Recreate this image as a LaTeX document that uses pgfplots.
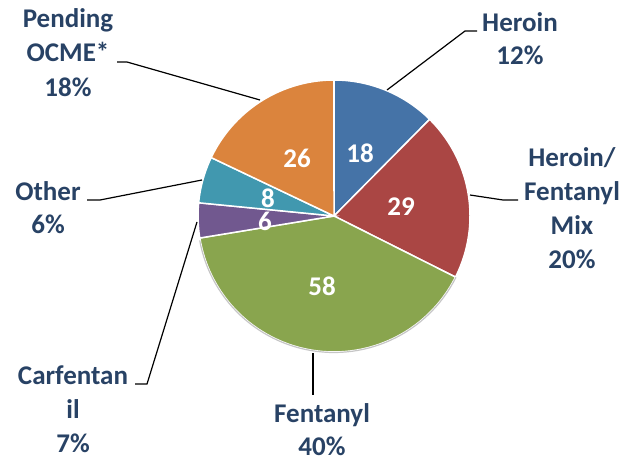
\documentclass[border=0pt]{standalone}
\usepackage{pgfplots}
\pgfplotsset{compat=1.18}
\usepackage{fontspec}
\setmainfont{Carlito}
\definecolor{txt}{RGB}{40,66,101}
\definecolor{cHer}{RGB}{69,115,167}
\definecolor{cMix}{RGB}{170,70,68}
\definecolor{cFen}{RGB}{137,165,78}
\definecolor{cCar}{RGB}{113,88,143}
\definecolor{cOth}{RGB}{65,152,175}
\definecolor{cPen}{RGB}{219,132,61}
\tikzset{
  lbl/.style={anchor=base, text=txt, font=\bfseries\fontsize{27}{33}\selectfont, inner sep=0pt},
  num/.style={anchor=base, text=white, font=\bfseries\fontsize{27}{33}\selectfont, inner sep=0pt}}
% values: Heroin 18, Mix 29, Fentanyl 58, Carfentanil 6, Other 8, Pending 26 (total 145)
\pgfmathsetmacro\aA{90}
\pgfmathsetmacro\aB{\aA-18/145*360}
\pgfmathsetmacro\aC{\aB-29/145*360}
\pgfmathsetmacro\aD{\aC-58/145*360}
\pgfmathsetmacro\aE{\aD-6/145*360}
\pgfmathsetmacro\aF{\aE-8/145*360}
\pgfmathsetmacro\aG{\aF-26/145*360}
\pgfmathsetmacro\aDD{\aD+1}
\begin{document}
\begin{tikzpicture}
\useasboundingbox (0,0) rectangle (639pt,461pt);
\begin{axis}[at={(0,0)}, anchor=south west, width=639pt, height=461pt, scale only axis,
  xmin=0, xmax=639, ymin=0, ymax=461, hide axis, clip=false,
  slice/.style={draw=white, line width=1.5pt, samples=60, variable=\t},
  lead/.style={black, line width=1.2pt}]
\addplot[slice, fill=cHer, domain=\aB:\aA] ({334+136*cos(\t)},{245+136*sin(\t)}) -- (axis cs:334,245) -- cycle;
\addplot[slice, fill=cMix, domain=\aC:\aB] ({334+136*cos(\t)},{245+136*sin(\t)}) -- (axis cs:334,245) -- cycle;
\addplot[slice, fill=cFen, domain=\aD:\aC] ({334+136*cos(\t)},{245+136*sin(\t)}) -- (axis cs:334,245) -- cycle;
\addplot[slice, fill=cCar, domain=\aE:\aD] ({334+136*cos(\t)},{245+136*sin(\t)}) -- (axis cs:334,245) -- cycle;
\addplot[slice, fill=cOth, domain=\aF:\aE] ({334+136*cos(\t)},{245+136*sin(\t)}) -- (axis cs:334,245) -- cycle;
\addplot[slice, fill=cPen, domain=\aG:\aF] ({334+136*cos(\t)},{245+136*sin(\t)}) -- (axis cs:334,245) -- cycle;
\addplot[gray!45, line width=1.2pt, samples=60, variable=\t, domain=\aDD:\aC] ({334+136.5*cos(\t)},{245+136.5*sin(\t)});
% leader lines
\addplot[lead] coordinates {(387,371) (465,430) (477,430)};
\addplot[lead] coordinates {(470,266) (503,261) (518,261)};
\addplot[lead] coordinates {(313,108) (313,66)};
\addplot[lead] coordinates {(135,77) (147,77) (197,239)};
\addplot[lead] coordinates {(87,261) (100,261) (202,281)};
\addplot[lead] coordinates {(117,399) (127,399) (260,361)};
% slice values
\node[num] at (axis cs:360,298) {18};
\node[num] at (axis cs:401,245) {29};
\node[num] at (axis cs:322,166) {58};
\node[num] at (axis cs:265,231) {6};
\node[num] at (axis cs:268,253) {8};
\node[num] at (axis cs:297,293) {26};
% outer labels
\node[lbl] at (axis cs:520,429) {Heroin};
\node[lbl] at (axis cs:520,396) {12\%};
\node[lbl] at (axis cs:572,294) {Heroin/};
\node[lbl] at (axis cs:572,260) {Fentanyl};
\node[lbl] at (axis cs:572,226) {Mix};
\node[lbl] at (axis cs:572,193) {20\%};
\node[lbl] at (axis cs:322,39) {Fentanyl};
\node[lbl] at (axis cs:322,6) {40\%};
\node[lbl] at (axis cs:73,77) {Carfentan};
\node[lbl] at (axis cs:73,43) {il};
\node[lbl] at (axis cs:73,9) {7\%};
\node[lbl] at (axis cs:48,261) {Other};
\node[lbl] at (axis cs:48,228) {6\%};
\node[lbl] at (axis cs:68,433) {Pending};
\node[lbl] at (axis cs:68,399) {OCME*};
\node[lbl] at (axis cs:68,364) {18\%};
\end{axis}
\end{tikzpicture}
\end{document}
